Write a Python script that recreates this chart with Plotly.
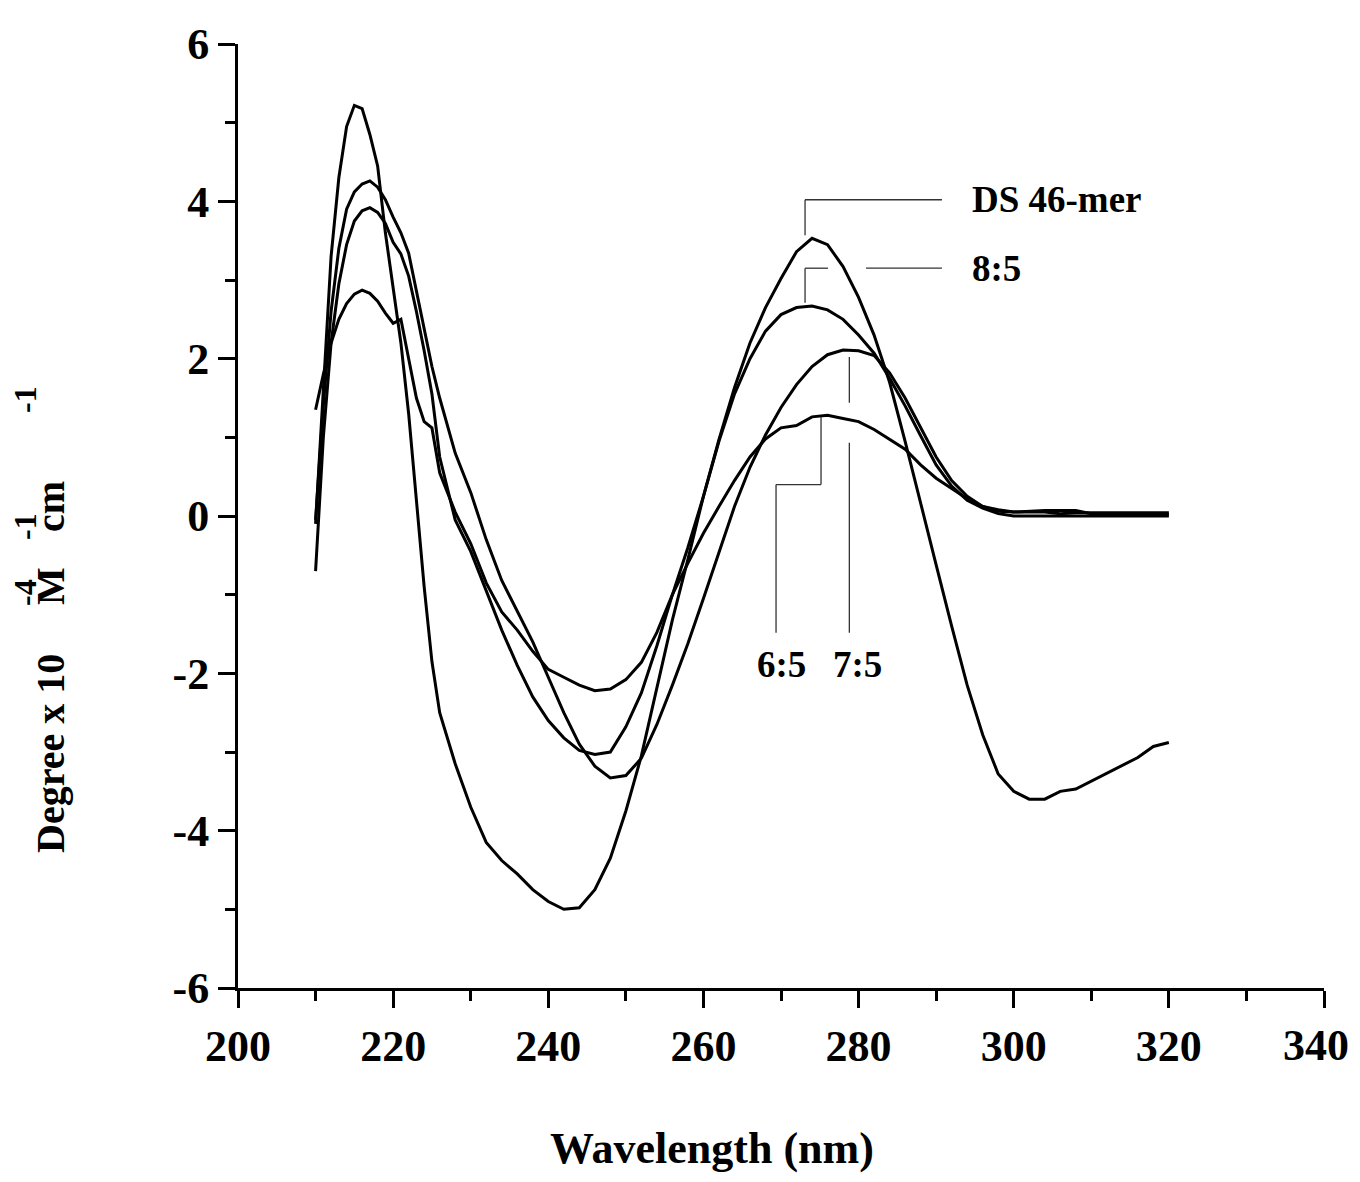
import plotly.graph_objects as go

# ---------------- data ----------------
wavelength = list(range(210, 227)) + list(range(228, 321, 2))

ds46 = [-0.1, 1.6, 3.3, 4.3, 4.95, 5.22, 5.18, 4.85, 4.45, 3.6, 2.9, 2.2, 1.3, 0.2, -0.9, -1.85, -2.5,
        -3.15, -3.7, -4.15, -4.38, -4.55, -4.75, -4.9, -5.0, -4.98, -4.75, -4.35, -3.75, -3.05, -2.18,
        -1.32, -0.55, 0.25, 0.97, 1.63, 2.2, 2.65, 3.02, 3.36, 3.53, 3.45, 3.17, 2.78, 2.3, 1.7, 0.95,
        0.15, -0.62, -1.4, -2.15, -2.78, -3.28, -3.5, -3.6, -3.6, -3.5, -3.47, -3.37, -3.27, -3.17,
        -3.07, -2.93, -2.88]

r85 = [-0.7, 1.0, 2.2, 2.95, 3.45, 3.75, 3.88, 3.92, 3.86, 3.72, 3.48, 3.33, 3.05, 2.6, 2.1, 1.55, 0.75,
       -0.05, -0.45, -0.95, -1.45, -1.9, -2.3, -2.6, -2.82, -2.98, -3.03, -3.0, -2.68, -2.25, -1.65,
       -1.0, -0.4, 0.25, 0.95, 1.55, 2.0, 2.35, 2.56, 2.65, 2.67, 2.62, 2.5, 2.3, 2.07, 1.75, 1.4,
       1.02, 0.65, 0.38, 0.2, 0.1, 0.03, 0.0, 0.0, 0.0, 0.0, 0.0, 0.0, 0.0, 0.0,
       0.0, 0.0, 0.0]

r75 = [-0.05, 1.4, 2.6, 3.4, 3.9, 4.12, 4.22, 4.26, 4.18, 4.02, 3.8, 3.6, 3.34, 2.85, 2.35, 1.9, 1.5,
       0.8, 0.3, -0.3, -0.82, -1.2, -1.6, -2.05, -2.5, -2.9, -3.18, -3.33, -3.3, -3.08, -2.65,
       -2.15, -1.62, -1.05, -0.45, 0.12, 0.62, 1.03, 1.38, 1.67, 1.9, 2.05, 2.11, 2.1, 2.04, 1.82, 1.5,
       1.12, 0.75, 0.45, 0.25, 0.12, 0.06, 0.05, 0.05, 0.05, 0.03, 0.04, 0.04, 0.04, 0.04,
       0.04, 0.04, 0.04]

r65 = [1.35, 1.8, 2.2, 2.5, 2.7, 2.82, 2.87, 2.83, 2.73, 2.58, 2.45, 2.5, 2.0, 1.5, 1.2, 1.12, 0.55,
       0.05, -0.35, -0.85, -1.22, -1.45, -1.72, -1.95, -2.05, -2.15, -2.22, -2.2, -2.08, -1.86, -1.48,
       -1.0, -0.6, -0.22, 0.12, 0.45, 0.75, 0.98, 1.12, 1.15, 1.26, 1.28, 1.24, 1.2, 1.1, 0.97, 0.85,
       0.65, 0.48, 0.35, 0.22, 0.12, 0.08, 0.05, 0.06, 0.07, 0.07, 0.07, 0.03, 0.02, 0.02,
       0.02, 0.02, 0.02]

series = {"DS 46-mer": ds46, "8:5": r85, "7:5": r75, "6:5": r65}

x_ticks = [200, 220, 240, 260, 280, 300, 320, 340]
y_ticks = [-6, -4, -2, 0, 2, 4, 6]

# ---------------- layout constants ----------------
FONT = "Liberation Serif, Times New Roman, serif"
OFF = 8                      # default page body margin (each side)
W, H = 1360 - 2 * OFF, 1182 - 2 * OFF
L, R, T, B = 230, 28, 36, 186
PW, PH = W - L - R, H - T - B


def px_paper(px, py):
    """page pixel -> paper coordinates"""
    fx, fy = px - OFF, py - OFF
    return (fx - L) / PW, (H - B - fy) / PH


fig = go.Figure()
for name, vals in series.items():
    fig.add_trace(go.Scatter(x=wavelength, y=vals, mode="lines", name=name,
                             line=dict(color="black", width=3), showlegend=False))

# leader lines (data coords)
leaders = [
    [(273.1, 3.57), (273.1, 4.02), (290.75, 4.02)],
    [(273.1, 2.71), (273.1, 3.15), (276.06, 3.15)],
    [(280.96, 3.15), (290.75, 3.15)],
    [(275.16, 1.26), (275.16, 0.40), (269.36, 0.40), (269.36, -1.485)],
    [(278.81, 2.02), (278.81, 1.44)],
    [(278.81, 0.93), (278.81, -1.485)],
]
for pts in leaders:
    for (x0, y0), (x1, y1) in zip(pts[:-1], pts[1:]):
        fig.add_shape(type="line", x0=x0, y0=y0, x1=x1, y1=y1, xref="x", yref="y",
                      line=dict(color="#333333", width=1.3))

labels = [
    ("DS 46-mer", 294.4, 4.02, "left"),
    ("8:5", 294.4, 3.15, "left"),
    ("6:5", 270.1, -1.89, "center"),
    ("7:5", 279.8, -1.89, "center"),
]
for txt, x, y, xa in labels:
    fig.add_annotation(x=x, y=y, text=txt, showarrow=False, xanchor=xa, yanchor="middle",
                       font=dict(family=FONT, size=37, color="black", weight="bold"))

TICKFONT = dict(family=FONT, size=44, color="black", weight="bold")

# last x tick label sits at the very edge of the page: draw it right-aligned to the edge
lx, ly = px_paper(1351, 1045)
fig.add_annotation(x=lx, y=ly, xref="paper", yref="paper", text=str(x_ticks[-1]),
                   showarrow=False, xanchor="right", yanchor="middle", font=TICKFONT)

# x title
xt, yt = px_paper(712, 1148)
fig.add_annotation(x=xt, y=yt, xref="paper", yref="paper", text="Wavelength (nm)",
                   showarrow=False, xanchor="center", yanchor="middle",
                   font=dict(family=FONT, size=44, color="black", weight="bold"))

# y title pieces (rotated)
ypieces = [
    ("Degree x 10", 50, 754, 40),
    ("M", 50, 586, 40),
    ("cm", 50, 507, 40),
    ("-4", 25, 593, 32),
    ("-1", 25, 527, 32),
    ("-1", 25, 400, 32),
]
for txt, px, py, sz in ypieces:
    xx, yy = px_paper(px, py)
    fig.add_annotation(x=xx, y=yy, xref="paper", yref="paper", text=txt, textangle=-90,
                       showarrow=False, xanchor="center", yanchor="middle",
                       font=dict(family=FONT, size=sz, color="black", weight="bold"))

axis_common = dict(showline=True, linecolor="black", linewidth=3, ticks="outside",
                   tickwidth=3, tickcolor="black", ticklen=17, showgrid=False, zeroline=False,
                   mirror=False, tickfont=TICKFONT)

fig.update_xaxes(range=[200, 340], tickvals=x_ticks,
                 ticktext=[str(v) for v in x_ticks[:-1]] + [""],
                 minor=dict(ticks="outside", ticklen=10, tickwidth=3, tickcolor="black",
                            dtick=10, tick0=200, showgrid=False),
                 ticklabelstandoff=0, **axis_common)
fig.update_yaxes(range=[-6, 6], tickvals=y_ticks, ticktext=[str(v) for v in y_ticks],
                 minor=dict(ticks="outside", ticklen=10, tickwidth=3, tickcolor="black",
                            dtick=1, tick0=0, showgrid=False),
                 **axis_common)

fig.update_layout(width=W, height=H, margin=dict(l=L, r=R, t=T, b=B),
                  plot_bgcolor="white", paper_bgcolor="white", showlegend=False)

fig.write_html("out.html")
